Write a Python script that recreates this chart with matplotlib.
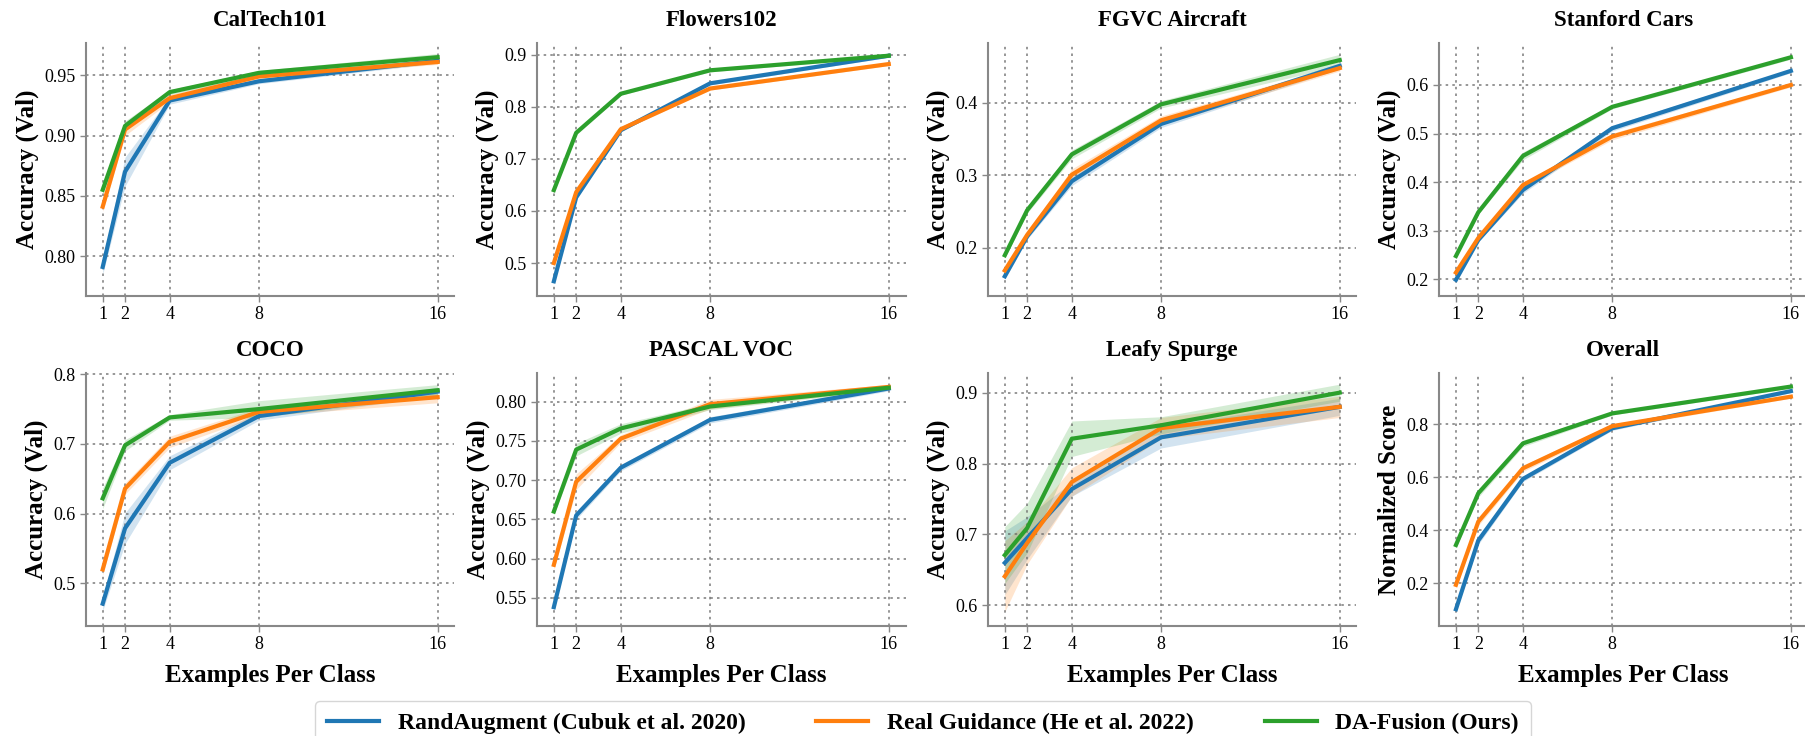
import numpy as np
import matplotlib
matplotlib.use("Agg")
import matplotlib.pyplot as plt

shots = [1, 2, 4, 8, 16]
methods = ["RandAugment (Cubuk et al. 2020)", "Real Guidance (He et al. 2022)", "DA-Fusion (Ours)"]
colors = ["#1f77b4", "#ff7f0e", "#2ca02c"]

titles = ["CalTech101", "Flowers102", "FGVC Aircraft", "Stanford Cars",
          "COCO", "PASCAL VOC", "Leafy Spurge", "Overall"]

# mean accuracy per method (RandAugment, Real Guidance, DA-Fusion)
caltech = [[0.791, 0.870, 0.929, 0.945, 0.962],
           [0.841, 0.905, 0.931, 0.949, 0.961],
           [0.855, 0.908, 0.936, 0.952, 0.965]]
flowers = [[0.465, 0.626, 0.755, 0.845, 0.898],
           [0.500, 0.636, 0.757, 0.835, 0.882],
           [0.640, 0.750, 0.825, 0.870, 0.898]]
aircraft = [[0.161, 0.216, 0.292, 0.371, 0.451],
            [0.169, 0.218, 0.301, 0.376, 0.448],
            [0.190, 0.252, 0.329, 0.398, 0.459]]
cars = [[0.199, 0.281, 0.384, 0.511, 0.629],
        [0.214, 0.285, 0.394, 0.494, 0.600],
        [0.248, 0.338, 0.454, 0.555, 0.657]]
coco = [[0.471, 0.579, 0.673, 0.740, 0.775],
        [0.520, 0.636, 0.703, 0.746, 0.767],
        [0.622, 0.698, 0.738, 0.750, 0.777]]
pascal = [[0.538, 0.655, 0.716, 0.777, 0.817],
          [0.592, 0.698, 0.753, 0.797, 0.819],
          [0.660, 0.739, 0.766, 0.794, 0.818]]
leafy = [[0.660, 0.695, 0.764, 0.837, 0.880],
         [0.641, 0.688, 0.774, 0.850, 0.880],
         [0.671, 0.709, 0.835, 0.854, 0.900]]
overall = [[0.102, 0.361, 0.593, 0.784, 0.924],
           [0.194, 0.432, 0.633, 0.792, 0.903],
           [0.344, 0.539, 0.727, 0.840, 0.941]]

# half-width of shaded bands
caltech_err = [[0.006, 0.012, 0.003, 0.002, 0.002],
               [0.004, 0.005, 0.003, 0.002, 0.002],
               [0.004, 0.004, 0.002, 0.002, 0.003]]
flowers_err = [[0.004, 0.004, 0.003, 0.003, 0.003],
               [0.004, 0.004, 0.003, 0.003, 0.003],
               [0.004, 0.004, 0.003, 0.003, 0.003]]
aircraft_err = [[0.004, 0.004, 0.006, 0.005, 0.004],
                [0.004, 0.004, 0.008, 0.006, 0.004],
                [0.004, 0.004, 0.006, 0.005, 0.008]]
cars_err = [[0.004, 0.004, 0.007, 0.006, 0.004],
            [0.004, 0.004, 0.005, 0.007, 0.004],
            [0.004, 0.004, 0.008, 0.004, 0.004]]
coco_err = [[0.010, 0.022, 0.010, 0.006, 0.006],
            [0.008, 0.008, 0.008, 0.006, 0.008],
            [0.015, 0.008, 0.004, 0.012, 0.008]]
pascal_err = [[0.004, 0.005, 0.004, 0.004, 0.003],
              [0.006, 0.010, 0.005, 0.006, 0.003],
              [0.004, 0.008, 0.006, 0.004, 0.003]]
leafy_err = [[0.045, 0.030, 0.010, 0.015, 0.012],
             [0.050, 0.030, 0.020, 0.015, 0.015],
             [0.040, 0.035, 0.025, 0.012, 0.012]]
overall_err = [[0.010, 0.015, 0.010, 0.008, 0.006],
               [0.010, 0.015, 0.012, 0.008, 0.006],
               [0.010, 0.015, 0.012, 0.006, 0.006]]

ylims = [(0.767, 0.977), (0.437, 0.923), (0.134, 0.483), (0.166, 0.687),
         (0.439, 0.802), (0.514, 0.837), (0.571, 0.928), (0.039, 0.993)]
yticks = [[0.80, 0.85, 0.90, 0.95], [0.5, 0.6, 0.7, 0.8, 0.9], [0.2, 0.3, 0.4],
          [0.2, 0.3, 0.4, 0.5, 0.6], [0.5, 0.6, 0.7, 0.8],
          [0.55, 0.60, 0.65, 0.70, 0.75, 0.80], [0.6, 0.7, 0.8, 0.9],
          [0.2, 0.4, 0.6, 0.8]]
yfmt = ["%.2f", "%.1f", "%.1f", "%.1f", "%.1f", "%.2f", "%.1f", "%.1f"]

means = [caltech, flowers, aircraft, cars, coco, pascal, leafy, overall]
errs = [caltech_err, flowers_err, aircraft_err, cars_err, coco_err, pascal_err, leafy_err, overall_err]

plt.rcParams['font.family'] = ['Liberation Serif', 'DejaVu Serif']

fig = plt.figure(figsize=(18.06, 7.36), dpi=100)
lefts = [0.0476, 0.2974, 0.5471, 0.7969]
bottoms = [0.598, 0.1495]
w, h = 0.204, 0.344

lines = []
for i in range(8):
    ax = fig.add_axes([lefts[i % 4], bottoms[i // 4], w, h])
    for m in range(3):
        mu = np.array(means[i][m])
        e = np.array(errs[i][m])
        ax.fill_between(shots, mu - e, mu + e, color=colors[m], alpha=0.2, lw=0)
        ln, = ax.plot(shots, mu, color=colors[m], lw=3, label=methods[m])
        if i == 0:
            lines.append(ln)
    ax.set_xlim(0.25, 16.75)
    ax.set_ylim(*ylims[i])
    ax.set_xticks(shots)
    ax.set_yticks(yticks[i])
    ax.set_yticklabels([yfmt[i] % t for t in yticks[i]])
    ax.tick_params(labelsize=13, length=4, color="#888888", width=1)
    ax.grid(True, linestyle=(0, (1.5, 2.5)), color="#666666", lw=1.2, alpha=0.8)
    for s in ["top", "right"]:
        ax.spines[s].set_visible(False)
    for s in ["left", "bottom"]:
        ax.spines[s].set_color("#888888")
        ax.spines[s].set_linewidth(1.5)
    ax.set_title(titles[i], fontsize=16.5, fontweight="bold", pad=12)
    if i == 7:
        ax.set_ylabel("Normalized Score", fontsize=18, fontweight="bold")
    else:
        ax.set_ylabel("Accuracy (Val)", fontsize=18, fontweight="bold")
    if i >= 4:
        ax.set_xlabel("Examples Per Class", fontsize=18, fontweight="bold", labelpad=8)

fig.legend(handles=lines, loc="lower center", bbox_to_anchor=(0.511, -0.03), ncol=3,
           prop={"size": 17, "weight": "bold"}, frameon=True, fancybox=True,
           handlelength=2.2, columnspacing=3.0, borderpad=0.5)

fig.savefig("out.png", dpi=100)
